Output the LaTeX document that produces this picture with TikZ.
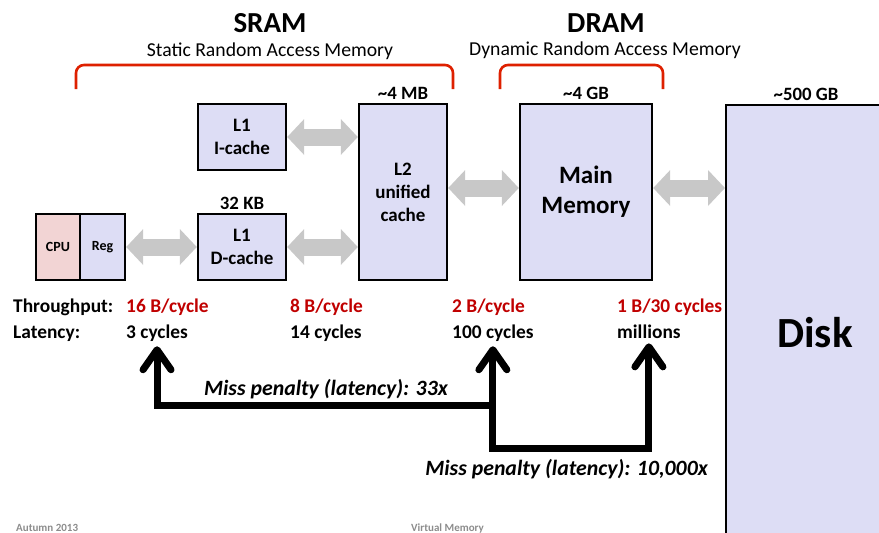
\documentclass[tikz,border=0pt]{standalone}
\usepackage{fontspec}
\setmainfont{Carlito}
\usetikzlibrary{arrows.meta}
\definecolor{boxfill}{RGB}{221,221,245}
\definecolor{cpufill}{RGB}{242,212,212}
\definecolor{linkgray}{RGB}{200,200,200}
\definecolor{ratered}{RGB}{192,0,0}
\definecolor{bracketred}{RGB}{222,32,0}
\definecolor{footgray}{RGB}{140,140,140}
\begin{document}
\begin{tikzpicture}[x=1pt, y=-1pt,
	membox/.style={draw=black, line width=2.4pt, fill=boxfill, align=center, inner sep=0pt, font=\bfseries\fontsize{19}{23}\selectfont},
	sizelbl/.style={font=\bfseries\fontsize{18.8}{22}\selectfont},
	link/.style={draw=linkgray, line width=17pt, {Triangle[length=17pt,width=35pt]}-{Triangle[length=17pt,width=35pt]}},
	bracket/.style={draw=bracketred, line width=2.6pt, rounded corners=8pt},
	rowlbl/.style={anchor=base west, inner sep=0pt, font=\bfseries\fontsize{19.4}{23}\selectfont},
	rate/.style={rowlbl, text=ratered},
	miss/.style={line width=7pt, {Straight Barb[length=20pt,width=28pt,round]}-{Straight Barb[length=20pt,width=28pt,round]}},
	misslbl/.style={inner sep=0pt, font=\bfseries\itshape\fontsize{21.8}{25}\selectfont},
	foot/.style={anchor=base west, inner sep=0pt, text=footgray, font=\bfseries\fontsize{11}{13}\selectfont}]
	\useasboundingbox (0,0) rectangle (879,533);
	\clip (0,0) rectangle (879,533);
	
	% 标题
	\node[font=\bfseries\fontsize{29}{34}\selectfont] (sram) at (270,23) {SRAM};
	\node[font=\fontsize{19.7}{23}\selectfont] (sramsub) at (270,51) {Static Random Access Memory};
	\node[font=\bfseries\fontsize{29}{34}\selectfont] (dram) at (606,23) {DRAM};
	\node[font=\fontsize{19.7}{23}\selectfont] (dramsub) at (605,50) {Dynamic Random Access Memory};
	
	% 括号
	\draw[bracket] (76,89) -- (76,65) -- (453,65) -- (453,89);
	\draw[bracket] (500,89) -- (500,65) -- (663,65) -- (663,89);
	
	% 存储层次
	\node[membox, fill=cpufill, minimum width=44pt, minimum height=66pt, font=\bfseries\fontsize{14}{16}\selectfont] (cpu) at (58,247) {CPU};
	\node[membox, minimum width=45pt, minimum height=66pt, font=\bfseries\fontsize{14}{16}\selectfont] (reg) at (102.5,247) {Reg};
	\node[membox, minimum width=88pt, minimum height=66pt] (l1i) at (242,137) {L1\\I-cache};
	\node[membox, minimum width=88pt, minimum height=66pt] (l1d) at (242,247) {L1\\D-cache};
	\node[membox, minimum width=88pt, minimum height=176pt] (l2) at (403,192) {L2\\unified\\cache};
	\node[membox, minimum width=132pt, minimum height=176pt, font=\bfseries\fontsize{25}{30}\selectfont] (mm) at (586,192) {Main\\Memory};
	\node[membox, minimum width=162pt, minimum height=460pt, anchor=north west] (disk) at (725,104) {};
	\node[font=\bfseries\fontsize{43}{50}\selectfont] (disktxt) at (815,333) {Disk};
	
	% 容量
	\node[sizelbl, above] (l1dsize) at (l1d.north) {32 KB};
	\node[sizelbl, above] (l2size) at (l2.north) {\textasciitilde 4 MB};
	\node[sizelbl, above] (mmsize) at (mm.north) {\textasciitilde 4 GB};
	\node[sizelbl, above] (disksize) at (806,104) {\textasciitilde 500 GB};
	
	% 数据通路
	\draw[link] (reg.east) -- (l1d.west);
	\draw[link] (l1i.east) -- (l1i.east -| l2.west);
	\draw[link] (l1d.east) -- (l1d.east -| l2.west);
	\draw[link] ([yshift=4pt]l2.east) -- ([yshift=4pt]mm.west);
	\draw[link] ([yshift=4pt]mm.east) -- ([yshift=4pt]mm.east -| disk.west);
	
	% 吞吐量与延迟
	\node[rowlbl] (tput) at (13,312) {Throughput:};
	\node[rate] (rate1) at (126,312) {16 B/cycle};
	\node[rate] (rate2) at (290,312) {8 B/cycle};
	\node[rate] (rate3) at (452,312) {2 B/cycle};
	\node[rate] (rate4) at (617,312) {1 B/30 cycles};
	\node[rowlbl] (lat) at (13,338) {Latency:};
	\node[rowlbl] (lat1) at (126,338) {3 cycles};
	\node[rowlbl] (lat2) at (290,338) {14 cycles};
	\node[rowlbl] (lat3) at (452,338) {100 cycles};
	\node[rowlbl] (lat4) at (617,338) {millions};
	
	% 缺失代价
	\coordinate (lvl1) at (0,405);
	\coordinate (lvl2) at (0,448);
	\draw[miss, {Straight Barb[length=20pt,width=28pt,round]}-] ([yshift=-5pt]lat1.south) |- (lat3.south |- lvl1);
	\draw[miss] ([yshift=-5pt]lat3.south) -- (lat3.south |- lvl2) -| ([yshift=-5pt]lat4.south);
	\node[misslbl, anchor=base east] (miss33) at (448,395) {Miss penalty (latency): 33x};
	\node[misslbl, anchor=base east] (miss10k) at (708,475) {Miss penalty (latency): 10,000x};
	
	% 页脚
	\node[foot] (term) at (16,531) {Autumn 2013};
	\node[foot] (topic) at (411,531) {Virtual Memory};
\end{tikzpicture}
\end{document}
